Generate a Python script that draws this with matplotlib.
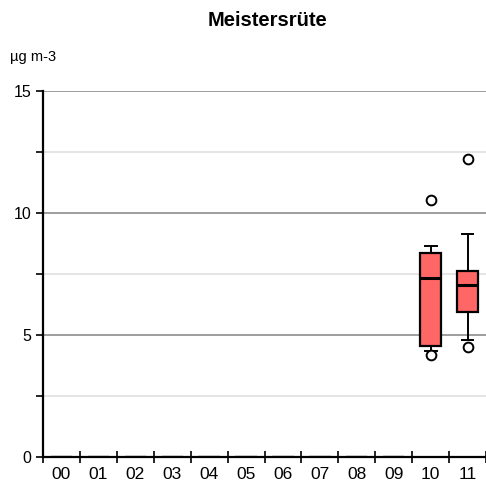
import matplotlib
matplotlib.use("Agg")
import matplotlib.pyplot as plt
from matplotlib.ticker import MultipleLocator

plt.rcParams['font.family'] = ['Liberation Sans', 'DejaVu Sans']

# months / categories
labels = ['00', '01', '02', '03', '04', '05', '06', '07', '08', '09', '10', '11']
# box statistics per category (empty ones sit at 0)
whislo = [0, 0, 0, 0, 0, 0, 0, 0, 0, 0, 4.36, 4.80]
q1 = [0, 0, 0, 0, 0, 0, 0, 0, 0, 0, 4.56, 5.93]
med = [0, 0, 0, 0, 0, 0, 0, 0, 0, 0, 7.35, 7.04]
q3 = [0, 0, 0, 0, 0, 0, 0, 0, 0, 0, 8.35, 7.64]
whishi = [0, 0, 0, 0, 0, 0, 0, 0, 0, 0, 8.65, 9.13]
fliers = [[], [], [], [], [], [], [], [], [], [], [4.18, 10.53], [4.52, 12.21]]

stats = []
for i in range(len(labels)):
    stats.append({'whislo': whislo[i], 'q1': q1[i], 'med': med[i], 'q3': q3[i],
                  'whishi': whishi[i], 'fliers': fliers[i], 'label': labels[i]})

fig = plt.figure(figsize=(4.86, 4.88), dpi=100)
ax = fig.add_axes([43 / 486, 31 / 488, 443 / 486, 366 / 488])

ax.bxp(stats, positions=range(len(labels)), widths=0.58, patch_artist=True,
       boxprops=dict(facecolor='#ff6666', edgecolor='black', linewidth=1.6),
       medianprops=dict(color='black', linewidth=2.2),
       whiskerprops=dict(color='black', linewidth=1.4),
       capprops=dict(color='black', linewidth=1.4),
       capwidths=0.32,
       flierprops=dict(marker='o', markerfacecolor='white', markeredgecolor='black',
                       markersize=7, markeredgewidth=1.4))

ax.set_xlim(-0.5, 11.42)
ax.set_ylim(0, 15)
ax.yaxis.set_major_locator(MultipleLocator(5))
ax.yaxis.set_minor_locator(MultipleLocator(2.5))
ax.grid(which='major', axis='y', color='#8c8c8c', linewidth=1.2)
ax.grid(which='minor', axis='y', color='#e0e0e0', linewidth=1.2)
ax.set_axisbelow(True)

ax.set_xticks([i + 0.5 for i in range(-1, 12)], minor=False)
ax.set_xticklabels([])
ax.set_xticks(range(len(labels)), minor=True)
ax.set_xticklabels(labels, minor=True)
ax.tick_params(axis='x', which='major', direction='inout', length=8, width=1.2)
ax.tick_params(axis='x', which='minor', length=0, labelsize=12.5, pad=7)
ax.tick_params(axis='y', which='both', direction='out', length=5, width=1.2, labelsize=11.5)
ax.grid(which='minor', axis='x', visible=False)

for s in ['top', 'right']:
    ax.spines[s].set_visible(False)
for s in ['left', 'bottom']:
    ax.spines[s].set_linewidth(1.6)

fig.text(267 / 486, 1 - 20 / 488, 'Meistersrüte', ha='center', va='center',
         fontsize=14.5, fontweight='bold')
fig.text(10 / 486, 1 - 57 / 488, 'µg m-3', ha='left', va='center', fontsize=10.5)

fig.savefig('out.png', dpi=100)
